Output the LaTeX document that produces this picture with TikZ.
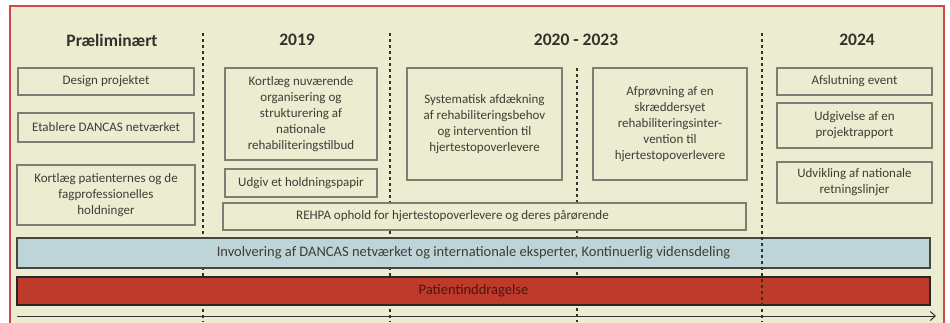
\documentclass[tikz,border=0pt]{standalone}
\usepackage{fontspec}
\setmainfont{Carlito}
\usetikzlibrary{arrows.meta}
\definecolor{cream}{RGB}{236,236,208}
\definecolor{framered}{RGB}{208,72,72}
\definecolor{boxline}{RGB}{125,125,115}
\definecolor{txt}{RGB}{62,62,52}
\definecolor{barblue}{RGB}{189,213,216}
\definecolor{barred}{RGB}{190,58,42}
\definecolor{darkline}{RGB}{50,50,45}
\tikzset{
  taskbox/.style={draw=boxline, line width=1.1pt, fill=cream, text=txt,
    font=\fontsize{13}{16}\selectfont, align=center, inner sep=2pt},
  header/.style={text=txt!80!black, font=\fontsize{17.5}{20}\selectfont\bfseries},
  phase/.style={draw=darkline, line width=1.3pt, dash pattern=on 3pt off 3pt},
  bar/.style={line width=1.5pt, font=\fontsize{14.5}{17}\selectfont, inner sep=0pt},
}
\begin{document}
\begin{tikzpicture}[x=1pt,y=-1pt]
\useasboundingbox (0,0) rectangle (950,322);
\fill[white] (0,0) rectangle (950,322);
\draw[framered, line width=2pt, fill=cream] (9.5,6) rectangle (944,340);

% phase separators (behind)
\foreach \n/\x/\y in {a/203/33,b/390/33,c/577/68}{
  \coordinate (t\n) at (\x,\y);
  \coordinate (b\n) at (\x,322);
  \draw[phase] (t\n) -- (b\n);
}

% headers
\node[header] (h1) at (112,40) {Præliminært};
\node[header] (h2) at (297,40) {2019};
\node[header] (h3) at (576,40) {2020 - 2023};
\node[header] (h4) at (857,40) {2024};

% column 1
\node[taskbox, minimum width=176pt, minimum height=27pt] (d1) at (106,81.5) {Design projektet};
\node[taskbox, minimum width=176pt, minimum height=29pt] (d2) at (106,127.5) {Etablere DANCAS netværket};
\node[taskbox, minimum width=178pt, minimum height=60pt] (d3) at (106,195) {Kortlæg patienternes og de\\fagprofessionelles\\holdninger};

% column 2
\node[taskbox, minimum width=152pt, minimum height=92pt] (e1) at (301,114) {Kortlæg nuværende\\organisering og\\strukturering af\\nationale\\rehabiliteringstilbud};
\node[taskbox, minimum width=152pt, minimum height=28pt] (e2) at (301,183) {Udgiv et holdningspapir};

% column 3
\node[taskbox, minimum width=155pt, minimum height=112pt] (f1) at (484.5,124) {Systematisk afdækning\\af rehabiliteringsbehov\\og intervention til\\hjertestopoverlevere};
\node[taskbox, minimum width=154pt, minimum height=112pt] (f2) at (670,124) {Afprøvning af en\\skræddersyet\\rehabiliteringsinter-\\vention til\\hjertestopoverlevere};

% column 4
\node[taskbox, minimum width=155pt, minimum height=27pt] (g1) at (854.5,81.5) {Afslutning event};
\node[taskbox, minimum width=155pt, minimum height=45pt] (g2) at (854.5,125.5) {Udgivelse af en\\projektrapport};
\node[taskbox, minimum width=155pt, minimum height=41pt] (g3) at (854.5,182.5) {Udvikling af nationale\\retningslinjer};

% REHPA
\node[taskbox, minimum width=523pt, minimum height=27pt,
  label={[text=txt, font=\fontsize{13}{16}\selectfont, xshift=-32pt]center:REHPA ophold for hjertestopoverlevere og deres pårørende}] (rehpa) at (484.5,216.5) {};

% bars
\node[bar, draw=darkline!90, fill=barblue, text=txt, minimum width=913pt, minimum height=30pt] (blue) at (473.5,253) {Involvering af DANCAS netværket og internationale eksperter, Kontinuerlig vidensdeling};
\node[bar, draw=black!85, fill=barred, text={rgb,255:red,80;green,20;blue,15}, minimum width=913pt, minimum height=28pt] (red) at (473.5,291) {Patientinddragelse};

% last separator (on top)
\coordinate (td) at (762,33);
\coordinate (bd) at (762,322);
\draw[phase] (td) -- (bd);

% time axis
\coordinate (axL) at (17,316);
\coordinate (axR) at (936,316);
\draw[darkline, line width=1pt, -{Straight Barb[length=5pt,width=9pt]}] (axL) -- (axR);
\end{tikzpicture}
\end{document}
